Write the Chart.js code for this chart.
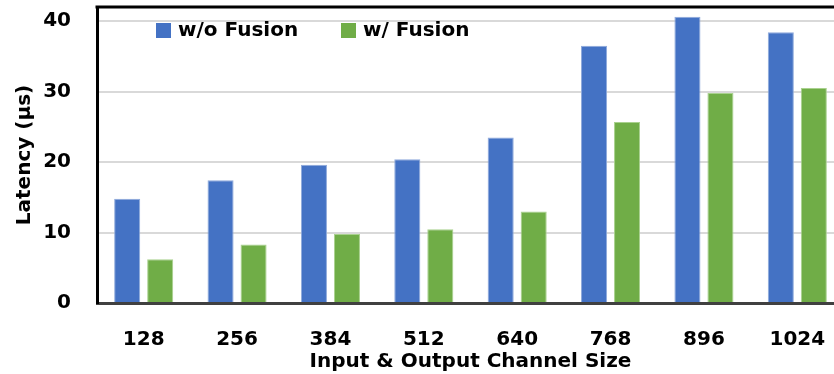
<!DOCTYPE html>
<html>
<head>
<meta charset="utf-8">
<script src="https://cdn.jsdelivr.net/npm/chart.js@4"></script>
<style>
    html, body { margin: 0; padding: 0; background: #fff; overflow: hidden; }
    #wrap { width: 860px; height: 374px; }
</style>
</head>
<body>
<div id="wrap"><canvas id="latencyChart" width="860" height="374"></canvas></div>
<script>
// Latency per channel size, with and without fusion

const channelSizes = ['128', '256', '384', '512', '640', '768', '896', '1024'];
const noFusionLatency = [14.8, 17.4, 19.6, 20.4, 23.5, 36.5, 40.6, 38.4];
const fusionLatency = [6.2, 8.3, 9.8, 10.45, 13.0, 25.7, 29.8, 30.5];
const yTicks = [0, 10, 20, 30, 40];

const FONT = 'DejaVu Sans';

// Legend drawn inside the plot, next to the top edge
const insideLegend = {
    id: 'insideLegend',
    afterDraw(chart) {
        const { ctx, chartArea } = chart;
        const items = [
            { x: chartArea.left + 59, ds: chart.data.datasets[0] },
            { x: chartArea.left + 244, ds: chart.data.datasets[1] }
        ];
        ctx.save();
        ctx.font = `bold 20px "${FONT}"`;
        ctx.textBaseline = 'middle';
        items.forEach(item => {
            ctx.fillStyle = item.ds.backgroundColor;
            ctx.fillRect(item.x, chartArea.top + 16, 15, 15);
            ctx.fillStyle = '#000';
            ctx.fillText(item.ds.label, item.x + 22, chartArea.top + 24);
        });
        ctx.restore();
    }
};

// Black frame line along the top of the plot
const topFrame = {
    id: 'topFrame',
    afterDraw(chart) {
        const { ctx, chartArea } = chart;
        ctx.save();
        ctx.strokeStyle = '#000';
        ctx.lineWidth = 3;
        ctx.beginPath();
        ctx.moveTo(chartArea.left - 1.5, chartArea.top);
        ctx.lineTo(chartArea.right, chartArea.top);
        ctx.stroke();
        ctx.restore();
    }
};

Chart.defaults.color = '#000';
Chart.defaults.font.family = FONT;

new Chart(document.getElementById('latencyChart'), {
    type: 'bar',
    data: {
        labels: channelSizes,
        datasets: [
            {
                label: 'w/o Fusion',
                data: noFusionLatency,
                backgroundColor: '#4472C4',
                borderColor: '#8EA9DB',
                borderWidth: 1,
                categoryPercentage: 0.707,
                barPercentage: 0.79
            },
            {
                label: 'w/ Fusion',
                data: fusionLatency,
                backgroundColor: '#70AD47',
                borderColor: '#A9D18E',
                borderWidth: 1,
                categoryPercentage: 0.707,
                barPercentage: 0.79
            }
        ]
    },
    options: {
        responsive: false,
        animation: false,
        layout: { padding: { left: 0, right: 16, top: 7, bottom: 0 } },
        plugins: {
            legend: { display: false },
            tooltip: { enabled: false }
        },
        scales: {
            x: {
                grid: { display: false, drawTicks: false },
                border: { color: '#404040', width: 3 },
                ticks: { font: { size: 20, weight: 'bold' }, padding: 25 },
                title: {
                    display: true,
                    text: 'Input & Output Channel Size',
                    font: { size: 20, weight: 'bold' },
                    padding: { top: 0, bottom: 0 }
                },
                afterFit(scale) {
                    scale.height = 71;
                    scale.paddingLeft = 0;
                    scale.paddingRight = 0;
                }
            },
            y: {
                min: 0,
                max: 42,
                afterBuildTicks(scale) {
                    scale.ticks = yTicks.map(v => ({ value: v }));
                },
                grid: {
                    color: ctx => (ctx.tick && ctx.tick.value === 0 ? 'rgba(0,0,0,0)' : '#d9d9d9'),
                    lineWidth: 2,
                    drawTicks: false
                },
                border: { color: '#000', width: 3 },
                ticks: { font: { size: 20, weight: 'bold' }, padding: 26 },
                title: {
                    display: true,
                    text: 'Latency (µs)',
                    font: { size: 20, weight: 'bold' },
                    padding: { top: 13, bottom: 0 }
                },
                afterFit(scale) {
                    scale.width = 97;
                    scale.paddingTop = 0;
                    scale.paddingBottom = 0;
                }
            }
        }
    },
    plugins: [insideLegend, topFrame]
});
</script>
</body>
</html>
